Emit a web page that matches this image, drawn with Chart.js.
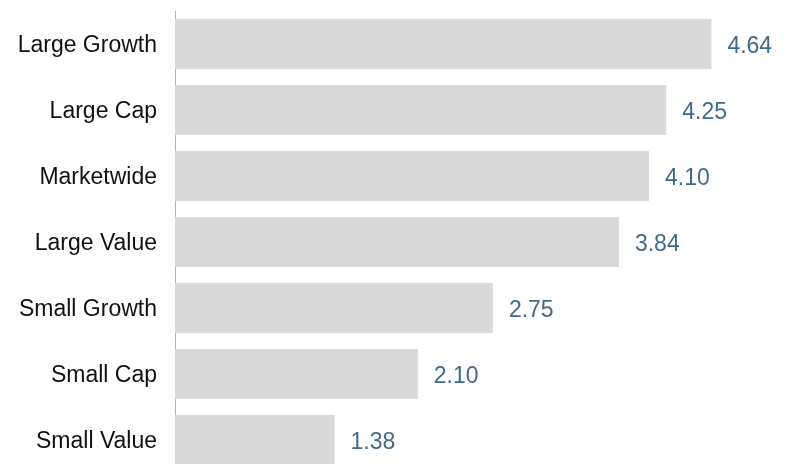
<!DOCTYPE html>
<html>
<head>
<meta charset="utf-8">
<script src="https://cdn.jsdelivr.net/npm/chart.js@4"></script>
<style>
  html, body { margin: 0; padding: 0; background: #fff; overflow: hidden; }
  #wrap { width: 789px; height: 474px; }
</style>
</head>
<body>
<div id="wrap"><canvas id="chart" width="789" height="474"></canvas></div>
<script>
const categories = ['Large Growth', 'Large Cap', 'Marketwide', 'Large Value', 'Small Growth', 'Small Cap', 'Small Value'];
const values = [4.64, 4.25, 4.10, 3.84, 2.75, 2.10, 1.38];

// etiquetas de valor a la derecha de cada barra
const valueLabels = {
    id: 'valueLabels',
    afterDatasetsDraw(chart) {
        const ctx = chart.ctx;
        const meta = chart.getDatasetMeta(0);
        ctx.save();
        ctx.font = '23px "Liberation Sans", Arial, sans-serif';
        ctx.fillStyle = '#41698a';
        ctx.textAlign = 'left';
        ctx.textBaseline = 'middle';
        meta.data.forEach((bar, i) => {
            ctx.fillText(values[i].toFixed(2), bar.x + 16, bar.y + 3);
        });
        ctx.restore();
    }
};

new Chart(document.getElementById('chart').getContext('2d'), {
    type: 'bar',
    data: {
        labels: categories,
        datasets: [{
            data: values,
            backgroundColor: '#d9d9d9',
            borderWidth: 0,
            barPercentage: 0.76,
            categoryPercentage: 1
        }]
    },
    options: {
        indexAxis: 'y',
        responsive: false,
        animation: false,
        devicePixelRatio: 1,
        layout: { padding: { left: 0, right: 36, top: 11, bottom: 1 } },
        scales: {
            x: { display: false, min: 0, max: 5 },
            y: {
                afterFit(scale) {
                    scale.width = 175;
                    scale.paddingTop = 0;
                    scale.paddingBottom = 0;
                },
                grid: { display: false, drawTicks: false },
                border: { display: true, color: '#b3b3b3', width: 1 },
                ticks: {
                    color: '#111',
                    padding: 18,
                    labelOffset: 2,
                    font: { family: '"Liberation Sans", Arial, sans-serif', size: 23 }
                }
            }
        },
        plugins: { legend: { display: false }, tooltip: { enabled: false } }
    },
    plugins: [valueLabels]
});
</script>
</body>
</html>
